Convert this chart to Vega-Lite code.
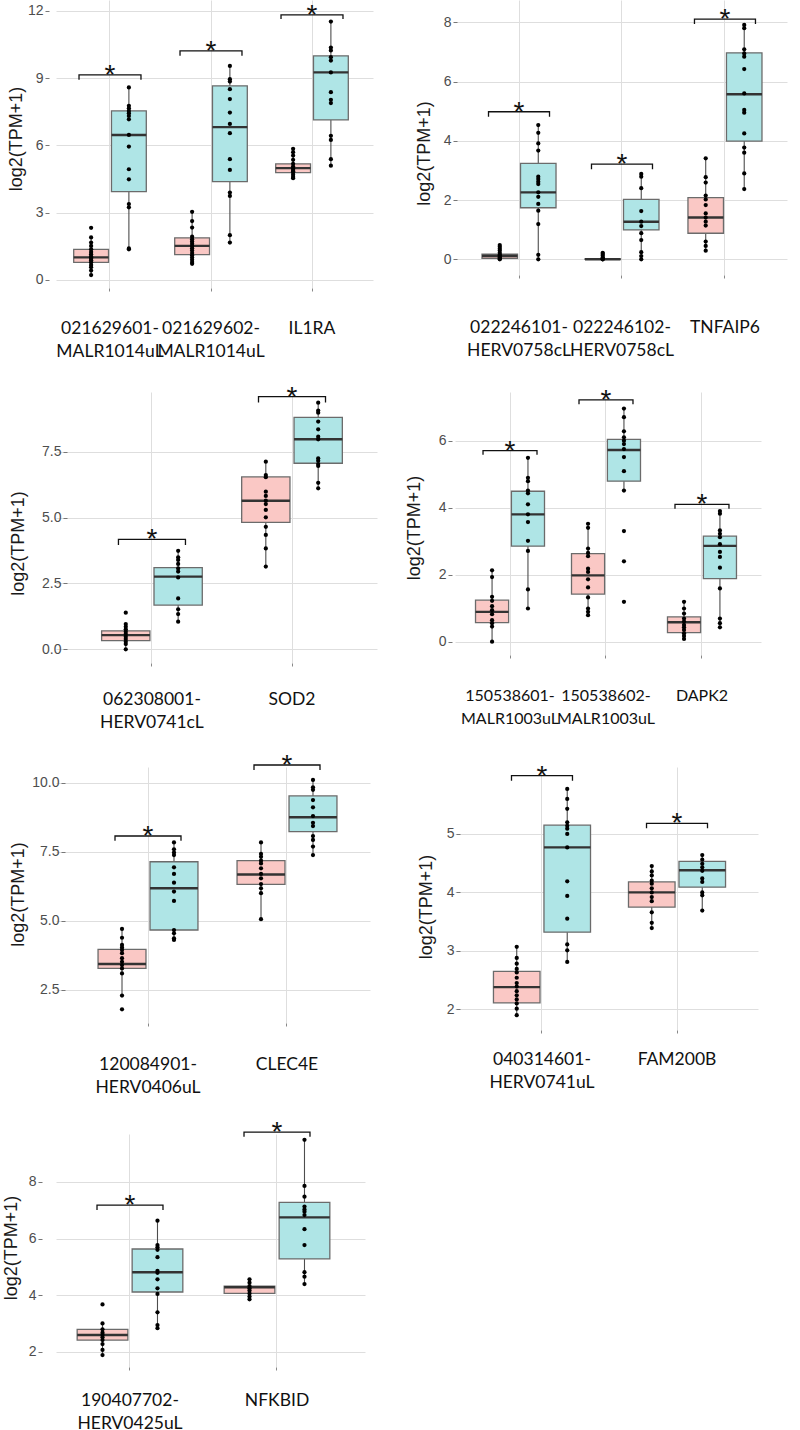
{
"$schema":"https://vega.github.io/schema/vega-lite/v6.json",
"background":"white",
"padding":{"left":2,"top":0,"right":4,"bottom":2},
"bounds":"flush",
"columns":2,
"align":"each",
"spacing":{"row":104,"column":78},
"config":{
 "view":{"stroke":null},
 "axisX":{"title":null,"labelAngle":0,"labelFont":"Lato","labelFontSize":17.5,"labelColor":"#111111","labelLineHeight":23,"labelBaseline":"top","tickSize":3,"tickColor":"#888888","domain":false,"grid":true,"gridColor":"#dedede","labelOverlap":false,"labelBound":false,"labelFlush":false,"labelLimit":300},
 "axisY":{"labelFont":"Liberation Sans","labelFontSize":14,"labelColor":"#4d4d4d","labelPadding":2,"tickSize":4,"tickColor":"#777777","domain":false,"grid":true,"gridColor":"#dedede","titleFont":"Liberation Sans","titleFontSize":18,"titleFontWeight":"normal","titleColor":"#1a1a1a","titlePadding":0}
},
"datasets":{
"boxes":[
{"p":1,"g":"021629601-MALR1014uL","s":"control","lo":0.22,"q1":0.79,"med":1.01,"q3":1.37,"hi":1.9},
{"p":1,"g":"021629601-MALR1014uL","s":"case","lo":1.37,"q1":3.94,"med":6.47,"q3":7.54,"hi":8.59},
{"p":1,"g":"021629602-MALR1014uL","s":"control","lo":0.72,"q1":1.13,"med":1.52,"q3":1.88,"hi":3.0},
{"p":1,"g":"021629602-MALR1014uL","s":"case","lo":1.67,"q1":4.39,"med":6.82,"q3":8.66,"hi":9.55},
{"p":1,"g":"IL1RA","s":"control","lo":4.54,"q1":4.79,"med":4.99,"q3":5.18,"hi":5.77},
{"p":1,"g":"IL1RA","s":"case","lo":5.1,"q1":7.14,"med":9.26,"q3":10.0,"hi":11.53},
{"p":2,"g":"022246101-HERV0758cL","s":"control","lo":0,"q1":0.03,"med":0.11,"q3":0.17,"hi":0.36},
{"p":2,"g":"022246101-HERV0758cL","s":"case","lo":0,"q1":1.74,"med":2.26,"q3":3.24,"hi":4.53},
{"p":2,"g":"022246102-HERV0758cL","s":"control","lo":0,"q1":0,"med":0,"q3":0.01,"hi":0.01},
{"p":2,"g":"022246102-HERV0758cL","s":"case","lo":0,"q1":0.99,"med":1.27,"q3":2.02,"hi":2.88},
{"p":2,"g":"TNFAIP6","s":"control","lo":0.29,"q1":0.88,"med":1.41,"q3":2.08,"hi":3.41},
{"p":2,"g":"TNFAIP6","s":"case","lo":2.37,"q1":3.99,"med":5.57,"q3":6.97,"hi":7.91},
{"p":3,"g":"062308001-HERV0741cL","s":"control","lo":0,"q1":0.33,"med":0.54,"q3":0.7,"hi":0.96},
{"p":3,"g":"062308001-HERV0741cL","s":"case","lo":1.05,"q1":1.68,"med":2.76,"q3":3.1,"hi":3.74},
{"p":3,"g":"SOD2","s":"control","lo":3.14,"q1":4.82,"med":5.64,"q3":6.54,"hi":7.12},
{"p":3,"g":"SOD2","s":"case","lo":6.11,"q1":7.06,"med":7.97,"q3":8.8,"hi":9.36},
{"p":4,"g":"150538601-MALR1003uL","s":"control","lo":0,"q1":0.57,"med":0.89,"q3":1.24,"hi":2.13},
{"p":4,"g":"150538601-MALR1003uL","s":"case","lo":0.99,"q1":2.85,"med":3.8,"q3":4.49,"hi":5.49},
{"p":4,"g":"150538602-MALR1003uL","s":"control","lo":0.79,"q1":1.42,"med":1.98,"q3":2.63,"hi":3.52},
{"p":4,"g":"150538602-MALR1003uL","s":"case","lo":4.51,"q1":4.79,"med":5.72,"q3":6.04,"hi":6.96},
{"p":4,"g":"DAPK2","s":"control","lo":0.08,"q1":0.27,"med":0.58,"q3":0.74,"hi":1.19},
{"p":4,"g":"DAPK2","s":"case","lo":0.43,"q1":1.88,"med":2.86,"q3":3.15,"hi":3.9},
{"p":5,"g":"120084901-HERV0406uL","s":"control","lo":2.3,"q1":3.28,"med":3.44,"q3":3.97,"hi":4.71},
{"p":5,"g":"120084901-HERV0406uL","s":"case","lo":4.31,"q1":4.67,"med":6.18,"q3":7.14,"hi":7.84},
{"p":5,"g":"CLEC4E","s":"control","lo":5.06,"q1":6.32,"med":6.68,"q3":7.18,"hi":7.84},
{"p":5,"g":"CLEC4E","s":"case","lo":7.38,"q1":8.23,"med":8.75,"q3":9.52,"hi":10.1},
{"p":6,"g":"040314601-HERV0741uL","s":"control","lo":1.9,"q1":2.11,"med":2.38,"q3":2.65,"hi":3.07},
{"p":6,"g":"040314601-HERV0741uL","s":"case","lo":2.81,"q1":3.32,"med":4.77,"q3":5.15,"hi":5.77},
{"p":6,"g":"FAM200B","s":"control","lo":3.39,"q1":3.75,"med":4.0,"q3":4.18,"hi":4.45},
{"p":6,"g":"FAM200B","s":"case","lo":3.69,"q1":4.09,"med":4.38,"q3":4.53,"hi":4.64},
{"p":7,"g":"190407702-HERV0425uL","s":"control","lo":1.88,"q1":2.41,"med":2.59,"q3":2.79,"hi":3.0},
{"p":7,"g":"190407702-HERV0425uL","s":"case","lo":2.83,"q1":4.11,"med":4.81,"q3":5.63,"hi":6.63},
{"p":7,"g":"NFKBID","s":"control","lo":3.85,"q1":4.06,"med":4.28,"q3":4.32,"hi":4.56},
{"p":7,"g":"NFKBID","s":"case","lo":4.39,"q1":5.28,"med":6.75,"q3":7.28,"hi":9.49}
],
"brackets":[
{"p":1,"g":"021629601-MALR1014uL","side":"L","k":1,"v":8.93},{"p":1,"g":"021629601-MALR1014uL","side":"L","k":2,"v":9.15},{"p":1,"g":"021629601-MALR1014uL","side":"R","k":3,"v":9.15},{"p":1,"g":"021629601-MALR1014uL","side":"R","k":4,"v":8.93},
{"p":1,"g":"021629602-MALR1014uL","side":"L","k":1,"v":10.0},{"p":1,"g":"021629602-MALR1014uL","side":"L","k":2,"v":10.22},{"p":1,"g":"021629602-MALR1014uL","side":"R","k":3,"v":10.22},{"p":1,"g":"021629602-MALR1014uL","side":"R","k":4,"v":10.0},
{"p":1,"g":"IL1RA","side":"L","k":1,"v":11.64},{"p":1,"g":"IL1RA","side":"L","k":2,"v":11.83},{"p":1,"g":"IL1RA","side":"R","k":3,"v":11.83},{"p":1,"g":"IL1RA","side":"R","k":4,"v":11.64},
{"p":2,"g":"022246101-HERV0758cL","side":"L","k":1,"v":4.81},{"p":2,"g":"022246101-HERV0758cL","side":"L","k":2,"v":4.98},{"p":2,"g":"022246101-HERV0758cL","side":"R","k":3,"v":4.98},{"p":2,"g":"022246101-HERV0758cL","side":"R","k":4,"v":4.81},
{"p":2,"g":"022246102-HERV0758cL","side":"L","k":1,"v":3.04},{"p":2,"g":"022246102-HERV0758cL","side":"L","k":2,"v":3.21},{"p":2,"g":"022246102-HERV0758cL","side":"R","k":3,"v":3.21},{"p":2,"g":"022246102-HERV0758cL","side":"R","k":4,"v":3.04},
{"p":2,"g":"TNFAIP6","side":"L","k":1,"v":7.94},{"p":2,"g":"TNFAIP6","side":"L","k":2,"v":8.11},{"p":2,"g":"TNFAIP6","side":"R","k":3,"v":8.11},{"p":2,"g":"TNFAIP6","side":"R","k":4,"v":7.94},
{"p":3,"g":"062308001-HERV0741cL","side":"L","k":1,"v":3.96},{"p":3,"g":"062308001-HERV0741cL","side":"L","k":2,"v":4.17},{"p":3,"g":"062308001-HERV0741cL","side":"R","k":3,"v":4.17},{"p":3,"g":"062308001-HERV0741cL","side":"R","k":4,"v":3.96},
{"p":3,"g":"SOD2","side":"L","k":1,"v":9.37},{"p":3,"g":"SOD2","side":"L","k":2,"v":9.59},{"p":3,"g":"SOD2","side":"R","k":3,"v":9.59},{"p":3,"g":"SOD2","side":"R","k":4,"v":9.37},
{"p":4,"g":"150538601-MALR1003uL","side":"L","k":1,"v":5.58},{"p":4,"g":"150538601-MALR1003uL","side":"L","k":2,"v":5.7},{"p":4,"g":"150538601-MALR1003uL","side":"R","k":3,"v":5.7},{"p":4,"g":"150538601-MALR1003uL","side":"R","k":4,"v":5.58},
{"p":4,"g":"150538602-MALR1003uL","side":"L","k":1,"v":7.09},{"p":4,"g":"150538602-MALR1003uL","side":"L","k":2,"v":7.22},{"p":4,"g":"150538602-MALR1003uL","side":"R","k":3,"v":7.22},{"p":4,"g":"150538602-MALR1003uL","side":"R","k":4,"v":7.09},
{"p":4,"g":"DAPK2","side":"L","k":1,"v":3.97},{"p":4,"g":"DAPK2","side":"L","k":2,"v":4.1},{"p":4,"g":"DAPK2","side":"R","k":3,"v":4.1},{"p":4,"g":"DAPK2","side":"R","k":4,"v":3.97},
{"p":5,"g":"120084901-HERV0406uL","side":"L","k":1,"v":7.9},{"p":5,"g":"120084901-HERV0406uL","side":"L","k":2,"v":8.07},{"p":5,"g":"120084901-HERV0406uL","side":"R","k":3,"v":8.07},{"p":5,"g":"120084901-HERV0406uL","side":"R","k":4,"v":7.9},
{"p":5,"g":"CLEC4E","side":"L","k":1,"v":10.46},{"p":5,"g":"CLEC4E","side":"L","k":2,"v":10.64},{"p":5,"g":"CLEC4E","side":"R","k":3,"v":10.64},{"p":5,"g":"CLEC4E","side":"R","k":4,"v":10.46},
{"p":6,"g":"040314601-HERV0741uL","side":"L","k":1,"v":5.91},{"p":6,"g":"040314601-HERV0741uL","side":"L","k":2,"v":6.0},{"p":6,"g":"040314601-HERV0741uL","side":"R","k":3,"v":6.0},{"p":6,"g":"040314601-HERV0741uL","side":"R","k":4,"v":5.91},
{"p":6,"g":"FAM200B","side":"L","k":1,"v":5.1},{"p":6,"g":"FAM200B","side":"L","k":2,"v":5.18},{"p":6,"g":"FAM200B","side":"R","k":3,"v":5.18},{"p":6,"g":"FAM200B","side":"R","k":4,"v":5.1},
{"p":7,"g":"190407702-HERV0425uL","side":"L","k":1,"v":7.01},{"p":7,"g":"190407702-HERV0425uL","side":"L","k":2,"v":7.18},{"p":7,"g":"190407702-HERV0425uL","side":"R","k":3,"v":7.18},{"p":7,"g":"190407702-HERV0425uL","side":"R","k":4,"v":7.01},
{"p":7,"g":"NFKBID","side":"L","k":1,"v":9.6},{"p":7,"g":"NFKBID","side":"L","k":2,"v":9.76},{"p":7,"g":"NFKBID","side":"R","k":3,"v":9.76},{"p":7,"g":"NFKBID","side":"R","k":4,"v":9.6}
],
"points":[
{"p":1,"g":"021629601-MALR1014uL","s":"control","v":2.33},{"p":1,"g":"021629601-MALR1014uL","s":"control","v":1.9},{"p":1,"g":"021629601-MALR1014uL","s":"control","v":1.67},{"p":1,"g":"021629601-MALR1014uL","s":"control","v":1.52},{"p":1,"g":"021629601-MALR1014uL","s":"control","v":1.37},{"p":1,"g":"021629601-MALR1014uL","s":"control","v":1.25},{"p":1,"g":"021629601-MALR1014uL","s":"control","v":1.15},{"p":1,"g":"021629601-MALR1014uL","s":"control","v":1.05},{"p":1,"g":"021629601-MALR1014uL","s":"control","v":1.0},{"p":1,"g":"021629601-MALR1014uL","s":"control","v":0.95},{"p":1,"g":"021629601-MALR1014uL","s":"control","v":0.88},{"p":1,"g":"021629601-MALR1014uL","s":"control","v":0.79},{"p":1,"g":"021629601-MALR1014uL","s":"control","v":0.67},{"p":1,"g":"021629601-MALR1014uL","s":"control","v":0.57},{"p":1,"g":"021629601-MALR1014uL","s":"control","v":0.42},{"p":1,"g":"021629601-MALR1014uL","s":"control","v":0.22},
{"p":1,"g":"021629601-MALR1014uL","s":"case","v":8.59},{"p":1,"g":"021629601-MALR1014uL","s":"case","v":7.77},{"p":1,"g":"021629601-MALR1014uL","s":"case","v":7.66},{"p":1,"g":"021629601-MALR1014uL","s":"case","v":7.54},{"p":1,"g":"021629601-MALR1014uL","s":"case","v":7.44},{"p":1,"g":"021629601-MALR1014uL","s":"case","v":7.32},{"p":1,"g":"021629601-MALR1014uL","s":"case","v":7.17},{"p":1,"g":"021629601-MALR1014uL","s":"case","v":6.47},{"p":1,"g":"021629601-MALR1014uL","s":"case","v":5.95},{"p":1,"g":"021629601-MALR1014uL","s":"case","v":4.94},{"p":1,"g":"021629601-MALR1014uL","s":"case","v":4.49},{"p":1,"g":"021629601-MALR1014uL","s":"case","v":3.39},{"p":1,"g":"021629601-MALR1014uL","s":"case","v":3.24},{"p":1,"g":"021629601-MALR1014uL","s":"case","v":1.41},{"p":1,"g":"021629601-MALR1014uL","s":"case","v":1.37},
{"p":1,"g":"021629602-MALR1014uL","s":"control","v":3.04},{"p":1,"g":"021629602-MALR1014uL","s":"control","v":2.63},{"p":1,"g":"021629602-MALR1014uL","s":"control","v":2.34},{"p":1,"g":"021629602-MALR1014uL","s":"control","v":1.93},{"p":1,"g":"021629602-MALR1014uL","s":"control","v":1.82},{"p":1,"g":"021629602-MALR1014uL","s":"control","v":1.72},{"p":1,"g":"021629602-MALR1014uL","s":"control","v":1.62},{"p":1,"g":"021629602-MALR1014uL","s":"control","v":1.52},{"p":1,"g":"021629602-MALR1014uL","s":"control","v":1.42},{"p":1,"g":"021629602-MALR1014uL","s":"control","v":1.32},{"p":1,"g":"021629602-MALR1014uL","s":"control","v":1.2},{"p":1,"g":"021629602-MALR1014uL","s":"control","v":1.1},{"p":1,"g":"021629602-MALR1014uL","s":"control","v":1.0},{"p":1,"g":"021629602-MALR1014uL","s":"control","v":0.9},{"p":1,"g":"021629602-MALR1014uL","s":"control","v":0.8},{"p":1,"g":"021629602-MALR1014uL","s":"control","v":0.72},
{"p":1,"g":"021629602-MALR1014uL","s":"case","v":9.55},{"p":1,"g":"021629602-MALR1014uL","s":"case","v":8.96},{"p":1,"g":"021629602-MALR1014uL","s":"case","v":8.85},{"p":1,"g":"021629602-MALR1014uL","s":"case","v":8.51},{"p":1,"g":"021629602-MALR1014uL","s":"case","v":8.07},{"p":1,"g":"021629602-MALR1014uL","s":"case","v":7.47},{"p":1,"g":"021629602-MALR1014uL","s":"case","v":6.96},{"p":1,"g":"021629602-MALR1014uL","s":"case","v":6.55},{"p":1,"g":"021629602-MALR1014uL","s":"case","v":5.39},{"p":1,"g":"021629602-MALR1014uL","s":"case","v":4.91},{"p":1,"g":"021629602-MALR1014uL","s":"case","v":3.9},{"p":1,"g":"021629602-MALR1014uL","s":"case","v":3.75},{"p":1,"g":"021629602-MALR1014uL","s":"case","v":2.0},{"p":1,"g":"021629602-MALR1014uL","s":"case","v":1.67},
{"p":1,"g":"IL1RA","s":"control","v":5.85},{"p":1,"g":"IL1RA","s":"control","v":5.7},{"p":1,"g":"IL1RA","s":"control","v":5.55},{"p":1,"g":"IL1RA","s":"control","v":5.36},{"p":1,"g":"IL1RA","s":"control","v":5.18},{"p":1,"g":"IL1RA","s":"control","v":5.06},{"p":1,"g":"IL1RA","s":"control","v":4.99},{"p":1,"g":"IL1RA","s":"control","v":4.91},{"p":1,"g":"IL1RA","s":"control","v":4.85},{"p":1,"g":"IL1RA","s":"control","v":4.79},{"p":1,"g":"IL1RA","s":"control","v":4.69},{"p":1,"g":"IL1RA","s":"control","v":4.6},{"p":1,"g":"IL1RA","s":"control","v":4.54},
{"p":1,"g":"IL1RA","s":"case","v":11.53},{"p":1,"g":"IL1RA","s":"case","v":10.37},{"p":1,"g":"IL1RA","s":"case","v":10.24},{"p":1,"g":"IL1RA","s":"case","v":9.94},{"p":1,"g":"IL1RA","s":"case","v":9.79},{"p":1,"g":"IL1RA","s":"case","v":9.26},{"p":1,"g":"IL1RA","s":"case","v":8.38},{"p":1,"g":"IL1RA","s":"case","v":8.04},{"p":1,"g":"IL1RA","s":"case","v":7.89},{"p":1,"g":"IL1RA","s":"case","v":6.43},{"p":1,"g":"IL1RA","s":"case","v":6.25},{"p":1,"g":"IL1RA","s":"case","v":5.39},{"p":1,"g":"IL1RA","s":"case","v":5.1},
{"p":2,"g":"022246101-HERV0758cL","s":"control","v":0.48},{"p":2,"g":"022246101-HERV0758cL","s":"control","v":0.42},{"p":2,"g":"022246101-HERV0758cL","s":"control","v":0.36},{"p":2,"g":"022246101-HERV0758cL","s":"control","v":0.3},{"p":2,"g":"022246101-HERV0758cL","s":"control","v":0.22},{"p":2,"g":"022246101-HERV0758cL","s":"control","v":0.16},{"p":2,"g":"022246101-HERV0758cL","s":"control","v":0.12},{"p":2,"g":"022246101-HERV0758cL","s":"control","v":0.08},{"p":2,"g":"022246101-HERV0758cL","s":"control","v":0.05},{"p":2,"g":"022246101-HERV0758cL","s":"control","v":0.02},{"p":2,"g":"022246101-HERV0758cL","s":"control","v":0.0},
{"p":2,"g":"022246101-HERV0758cL","s":"case","v":4.53},{"p":2,"g":"022246101-HERV0758cL","s":"case","v":4.27},{"p":2,"g":"022246101-HERV0758cL","s":"case","v":3.91},{"p":2,"g":"022246101-HERV0758cL","s":"case","v":3.67},{"p":2,"g":"022246101-HERV0758cL","s":"case","v":2.79},{"p":2,"g":"022246101-HERV0758cL","s":"case","v":2.71},{"p":2,"g":"022246101-HERV0758cL","s":"case","v":2.62},{"p":2,"g":"022246101-HERV0758cL","s":"case","v":2.54},{"p":2,"g":"022246101-HERV0758cL","s":"case","v":2.26},{"p":2,"g":"022246101-HERV0758cL","s":"case","v":2.11},{"p":2,"g":"022246101-HERV0758cL","s":"case","v":1.87},{"p":2,"g":"022246101-HERV0758cL","s":"case","v":1.64},{"p":2,"g":"022246101-HERV0758cL","s":"case","v":1.19},{"p":2,"g":"022246101-HERV0758cL","s":"case","v":0.15},{"p":2,"g":"022246101-HERV0758cL","s":"case","v":0.0},
{"p":2,"g":"022246102-HERV0758cL","s":"control","v":0.22},{"p":2,"g":"022246102-HERV0758cL","s":"control","v":0.18},{"p":2,"g":"022246102-HERV0758cL","s":"control","v":0.12},{"p":2,"g":"022246102-HERV0758cL","s":"control","v":0.06},{"p":2,"g":"022246102-HERV0758cL","s":"control","v":0.03},{"p":2,"g":"022246102-HERV0758cL","s":"control","v":0.0},{"p":2,"g":"022246102-HERV0758cL","s":"control","v":0.0},
{"p":2,"g":"022246102-HERV0758cL","s":"case","v":2.88},{"p":2,"g":"022246102-HERV0758cL","s":"case","v":2.79},{"p":2,"g":"022246102-HERV0758cL","s":"case","v":2.4},{"p":2,"g":"022246102-HERV0758cL","s":"case","v":1.63},{"p":2,"g":"022246102-HERV0758cL","s":"case","v":1.27},{"p":2,"g":"022246102-HERV0758cL","s":"case","v":1.12},{"p":2,"g":"022246102-HERV0758cL","s":"case","v":0.88},{"p":2,"g":"022246102-HERV0758cL","s":"case","v":0.65},{"p":2,"g":"022246102-HERV0758cL","s":"case","v":0.24},{"p":2,"g":"022246102-HERV0758cL","s":"case","v":0.11},{"p":2,"g":"022246102-HERV0758cL","s":"case","v":0.0},
{"p":2,"g":"TNFAIP6","s":"control","v":3.41},{"p":2,"g":"TNFAIP6","s":"control","v":2.77},{"p":2,"g":"TNFAIP6","s":"control","v":2.59},{"p":2,"g":"TNFAIP6","s":"control","v":2.15},{"p":2,"g":"TNFAIP6","s":"control","v":2.02},{"p":2,"g":"TNFAIP6","s":"control","v":1.83},{"p":2,"g":"TNFAIP6","s":"control","v":1.55},{"p":2,"g":"TNFAIP6","s":"control","v":1.41},{"p":2,"g":"TNFAIP6","s":"control","v":1.27},{"p":2,"g":"TNFAIP6","s":"control","v":1.14},{"p":2,"g":"TNFAIP6","s":"control","v":0.6},{"p":2,"g":"TNFAIP6","s":"control","v":0.45},{"p":2,"g":"TNFAIP6","s":"control","v":0.29},
{"p":2,"g":"TNFAIP6","s":"case","v":7.91},{"p":2,"g":"TNFAIP6","s":"case","v":7.8},{"p":2,"g":"TNFAIP6","s":"case","v":7.09},{"p":2,"g":"TNFAIP6","s":"case","v":6.95},{"p":2,"g":"TNFAIP6","s":"case","v":6.84},{"p":2,"g":"TNFAIP6","s":"case","v":6.42},{"p":2,"g":"TNFAIP6","s":"case","v":5.6},{"p":2,"g":"TNFAIP6","s":"case","v":5.04},{"p":2,"g":"TNFAIP6","s":"case","v":4.95},{"p":2,"g":"TNFAIP6","s":"case","v":4.25},{"p":2,"g":"TNFAIP6","s":"case","v":3.77},{"p":2,"g":"TNFAIP6","s":"case","v":3.6},{"p":2,"g":"TNFAIP6","s":"case","v":2.9},{"p":2,"g":"TNFAIP6","s":"case","v":2.37},
{"p":3,"g":"062308001-HERV0741cL","s":"control","v":1.39},{"p":3,"g":"062308001-HERV0741cL","s":"control","v":0.96},{"p":3,"g":"062308001-HERV0741cL","s":"control","v":0.86},{"p":3,"g":"062308001-HERV0741cL","s":"control","v":0.76},{"p":3,"g":"062308001-HERV0741cL","s":"control","v":0.67},{"p":3,"g":"062308001-HERV0741cL","s":"control","v":0.58},{"p":3,"g":"062308001-HERV0741cL","s":"control","v":0.48},{"p":3,"g":"062308001-HERV0741cL","s":"control","v":0.39},{"p":3,"g":"062308001-HERV0741cL","s":"control","v":0.29},{"p":3,"g":"062308001-HERV0741cL","s":"control","v":0.2},{"p":3,"g":"062308001-HERV0741cL","s":"control","v":0.0},
{"p":3,"g":"062308001-HERV0741cL","s":"case","v":3.74},{"p":3,"g":"062308001-HERV0741cL","s":"case","v":3.49},{"p":3,"g":"062308001-HERV0741cL","s":"case","v":3.39},{"p":3,"g":"062308001-HERV0741cL","s":"case","v":3.24},{"p":3,"g":"062308001-HERV0741cL","s":"case","v":3.07},{"p":3,"g":"062308001-HERV0741cL","s":"case","v":2.95},{"p":3,"g":"062308001-HERV0741cL","s":"case","v":2.73},{"p":3,"g":"062308001-HERV0741cL","s":"case","v":1.93},{"p":3,"g":"062308001-HERV0741cL","s":"case","v":1.52},{"p":3,"g":"062308001-HERV0741cL","s":"case","v":1.34},{"p":3,"g":"062308001-HERV0741cL","s":"case","v":1.05},
{"p":3,"g":"SOD2","s":"control","v":7.12},{"p":3,"g":"SOD2","s":"control","v":6.61},{"p":3,"g":"SOD2","s":"control","v":6.53},{"p":3,"g":"SOD2","s":"control","v":5.98},{"p":3,"g":"SOD2","s":"control","v":5.82},{"p":3,"g":"SOD2","s":"control","v":5.64},{"p":3,"g":"SOD2","s":"control","v":5.51},{"p":3,"g":"SOD2","s":"control","v":5.29},{"p":3,"g":"SOD2","s":"control","v":5.01},{"p":3,"g":"SOD2","s":"control","v":4.65},{"p":3,"g":"SOD2","s":"control","v":4.34},{"p":3,"g":"SOD2","s":"control","v":3.83},{"p":3,"g":"SOD2","s":"control","v":3.14},
{"p":3,"g":"SOD2","s":"case","v":9.36},{"p":3,"g":"SOD2","s":"case","v":9.06},{"p":3,"g":"SOD2","s":"case","v":8.98},{"p":3,"g":"SOD2","s":"case","v":8.64},{"p":3,"g":"SOD2","s":"case","v":8.35},{"p":3,"g":"SOD2","s":"case","v":8.07},{"p":3,"g":"SOD2","s":"case","v":7.97},{"p":3,"g":"SOD2","s":"case","v":7.25},{"p":3,"g":"SOD2","s":"case","v":7.16},{"p":3,"g":"SOD2","s":"case","v":7.03},{"p":3,"g":"SOD2","s":"case","v":6.96},{"p":3,"g":"SOD2","s":"case","v":6.32},{"p":3,"g":"SOD2","s":"case","v":6.11},
{"p":4,"g":"150538601-MALR1003uL","s":"control","v":2.13},{"p":4,"g":"150538601-MALR1003uL","s":"control","v":1.93},{"p":4,"g":"150538601-MALR1003uL","s":"control","v":1.34},{"p":4,"g":"150538601-MALR1003uL","s":"control","v":1.22},{"p":4,"g":"150538601-MALR1003uL","s":"control","v":1.06},{"p":4,"g":"150538601-MALR1003uL","s":"control","v":0.94},{"p":4,"g":"150538601-MALR1003uL","s":"control","v":0.82},{"p":4,"g":"150538601-MALR1003uL","s":"control","v":0.64},{"p":4,"g":"150538601-MALR1003uL","s":"control","v":0.55},{"p":4,"g":"150538601-MALR1003uL","s":"control","v":0.45},{"p":4,"g":"150538601-MALR1003uL","s":"control","v":0.0},
{"p":4,"g":"150538601-MALR1003uL","s":"case","v":5.49},{"p":4,"g":"150538601-MALR1003uL","s":"case","v":4.89},{"p":4,"g":"150538601-MALR1003uL","s":"case","v":4.79},{"p":4,"g":"150538601-MALR1003uL","s":"case","v":4.51},{"p":4,"g":"150538601-MALR1003uL","s":"case","v":4.43},{"p":4,"g":"150538601-MALR1003uL","s":"case","v":4.1},{"p":4,"g":"150538601-MALR1003uL","s":"case","v":3.8},{"p":4,"g":"150538601-MALR1003uL","s":"case","v":3.57},{"p":4,"g":"150538601-MALR1003uL","s":"case","v":3.01},{"p":4,"g":"150538601-MALR1003uL","s":"case","v":2.71},{"p":4,"g":"150538601-MALR1003uL","s":"case","v":1.56},{"p":4,"g":"150538601-MALR1003uL","s":"case","v":0.99},
{"p":4,"g":"150538602-MALR1003uL","s":"control","v":3.52},{"p":4,"g":"150538602-MALR1003uL","s":"control","v":3.4},{"p":4,"g":"150538602-MALR1003uL","s":"control","v":2.78},{"p":4,"g":"150538602-MALR1003uL","s":"control","v":2.65},{"p":4,"g":"150538602-MALR1003uL","s":"control","v":2.55},{"p":4,"g":"150538602-MALR1003uL","s":"control","v":2.18},{"p":4,"g":"150538602-MALR1003uL","s":"control","v":2.08},{"p":4,"g":"150538602-MALR1003uL","s":"control","v":1.86},{"p":4,"g":"150538602-MALR1003uL","s":"control","v":1.62},{"p":4,"g":"150538602-MALR1003uL","s":"control","v":1.32},{"p":4,"g":"150538602-MALR1003uL","s":"control","v":0.99},{"p":4,"g":"150538602-MALR1003uL","s":"control","v":0.89},{"p":4,"g":"150538602-MALR1003uL","s":"control","v":0.79},
{"p":4,"g":"150538602-MALR1003uL","s":"case","v":6.96},{"p":4,"g":"150538602-MALR1003uL","s":"case","v":6.7},{"p":4,"g":"150538602-MALR1003uL","s":"case","v":6.28},{"p":4,"g":"150538602-MALR1003uL","s":"case","v":6.1},{"p":4,"g":"150538602-MALR1003uL","s":"case","v":6.0},{"p":4,"g":"150538602-MALR1003uL","s":"case","v":5.9},{"p":4,"g":"150538602-MALR1003uL","s":"case","v":5.75},{"p":4,"g":"150538602-MALR1003uL","s":"case","v":5.51},{"p":4,"g":"150538602-MALR1003uL","s":"case","v":5.09},{"p":4,"g":"150538602-MALR1003uL","s":"case","v":4.51},{"p":4,"g":"150538602-MALR1003uL","s":"case","v":3.3},{"p":4,"g":"150538602-MALR1003uL","s":"case","v":2.4},{"p":4,"g":"150538602-MALR1003uL","s":"case","v":1.19},
{"p":4,"g":"DAPK2","s":"control","v":1.19},{"p":4,"g":"DAPK2","s":"control","v":0.99},{"p":4,"g":"DAPK2","s":"control","v":0.84},{"p":4,"g":"DAPK2","s":"control","v":0.69},{"p":4,"g":"DAPK2","s":"control","v":0.6},{"p":4,"g":"DAPK2","s":"control","v":0.5},{"p":4,"g":"DAPK2","s":"control","v":0.43},{"p":4,"g":"DAPK2","s":"control","v":0.35},{"p":4,"g":"DAPK2","s":"control","v":0.25},{"p":4,"g":"DAPK2","s":"control","v":0.17},{"p":4,"g":"DAPK2","s":"control","v":0.08},
{"p":4,"g":"DAPK2","s":"case","v":3.9},{"p":4,"g":"DAPK2","s":"case","v":3.82},{"p":4,"g":"DAPK2","s":"case","v":3.32},{"p":4,"g":"DAPK2","s":"case","v":3.22},{"p":4,"g":"DAPK2","s":"case","v":3.12},{"p":4,"g":"DAPK2","s":"case","v":2.91},{"p":4,"g":"DAPK2","s":"case","v":2.68},{"p":4,"g":"DAPK2","s":"case","v":2.53},{"p":4,"g":"DAPK2","s":"case","v":2.21},{"p":4,"g":"DAPK2","s":"case","v":1.59},{"p":4,"g":"DAPK2","s":"case","v":0.69},{"p":4,"g":"DAPK2","s":"case","v":0.55},{"p":4,"g":"DAPK2","s":"case","v":0.43},
{"p":5,"g":"120084901-HERV0406uL","s":"control","v":4.71},{"p":5,"g":"120084901-HERV0406uL","s":"control","v":4.39},{"p":5,"g":"120084901-HERV0406uL","s":"control","v":4.13},{"p":5,"g":"120084901-HERV0406uL","s":"control","v":4.04},{"p":5,"g":"120084901-HERV0406uL","s":"control","v":3.95},{"p":5,"g":"120084901-HERV0406uL","s":"control","v":3.83},{"p":5,"g":"120084901-HERV0406uL","s":"control","v":3.65},{"p":5,"g":"120084901-HERV0406uL","s":"control","v":3.52},{"p":5,"g":"120084901-HERV0406uL","s":"control","v":3.4},{"p":5,"g":"120084901-HERV0406uL","s":"control","v":3.28},{"p":5,"g":"120084901-HERV0406uL","s":"control","v":3.1},{"p":5,"g":"120084901-HERV0406uL","s":"control","v":2.3},{"p":5,"g":"120084901-HERV0406uL","s":"control","v":1.8},
{"p":5,"g":"120084901-HERV0406uL","s":"case","v":7.84},{"p":5,"g":"120084901-HERV0406uL","s":"case","v":7.59},{"p":5,"g":"120084901-HERV0406uL","s":"case","v":7.47},{"p":5,"g":"120084901-HERV0406uL","s":"case","v":7.38},{"p":5,"g":"120084901-HERV0406uL","s":"case","v":6.94},{"p":5,"g":"120084901-HERV0406uL","s":"case","v":6.7},{"p":5,"g":"120084901-HERV0406uL","s":"case","v":6.38},{"p":5,"g":"120084901-HERV0406uL","s":"case","v":6.06},{"p":5,"g":"120084901-HERV0406uL","s":"case","v":5.72},{"p":5,"g":"120084901-HERV0406uL","s":"case","v":4.67},{"p":5,"g":"120084901-HERV0406uL","s":"case","v":4.55},{"p":5,"g":"120084901-HERV0406uL","s":"case","v":4.37},{"p":5,"g":"120084901-HERV0406uL","s":"case","v":4.31},
{"p":5,"g":"CLEC4E","s":"control","v":7.84},{"p":5,"g":"CLEC4E","s":"control","v":7.42},{"p":5,"g":"CLEC4E","s":"control","v":7.32},{"p":5,"g":"CLEC4E","s":"control","v":7.18},{"p":5,"g":"CLEC4E","s":"control","v":7.08},{"p":5,"g":"CLEC4E","s":"control","v":6.9},{"p":5,"g":"CLEC4E","s":"control","v":6.7},{"p":5,"g":"CLEC4E","s":"control","v":6.54},{"p":5,"g":"CLEC4E","s":"control","v":6.33},{"p":5,"g":"CLEC4E","s":"control","v":6.18},{"p":5,"g":"CLEC4E","s":"control","v":6.0},{"p":5,"g":"CLEC4E","s":"control","v":5.06},
{"p":5,"g":"CLEC4E","s":"case","v":10.1},{"p":5,"g":"CLEC4E","s":"case","v":9.83},{"p":5,"g":"CLEC4E","s":"case","v":9.74},{"p":5,"g":"CLEC4E","s":"case","v":9.37},{"p":5,"g":"CLEC4E","s":"case","v":9.11},{"p":5,"g":"CLEC4E","s":"case","v":8.79},{"p":5,"g":"CLEC4E","s":"case","v":8.55},{"p":5,"g":"CLEC4E","s":"case","v":8.43},{"p":5,"g":"CLEC4E","s":"case","v":8.07},{"p":5,"g":"CLEC4E","s":"case","v":7.93},{"p":5,"g":"CLEC4E","s":"case","v":7.69},{"p":5,"g":"CLEC4E","s":"case","v":7.38},
{"p":6,"g":"040314601-HERV0741uL","s":"control","v":3.07},{"p":6,"g":"040314601-HERV0741uL","s":"control","v":2.88},{"p":6,"g":"040314601-HERV0741uL","s":"control","v":2.78},{"p":6,"g":"040314601-HERV0741uL","s":"control","v":2.69},{"p":6,"g":"040314601-HERV0741uL","s":"control","v":2.63},{"p":6,"g":"040314601-HERV0741uL","s":"control","v":2.54},{"p":6,"g":"040314601-HERV0741uL","s":"control","v":2.45},{"p":6,"g":"040314601-HERV0741uL","s":"control","v":2.39},{"p":6,"g":"040314601-HERV0741uL","s":"control","v":2.31},{"p":6,"g":"040314601-HERV0741uL","s":"control","v":2.24},{"p":6,"g":"040314601-HERV0741uL","s":"control","v":2.17},{"p":6,"g":"040314601-HERV0741uL","s":"control","v":2.1},{"p":6,"g":"040314601-HERV0741uL","s":"control","v":2.01},{"p":6,"g":"040314601-HERV0741uL","s":"control","v":1.9},
{"p":6,"g":"040314601-HERV0741uL","s":"case","v":5.77},{"p":6,"g":"040314601-HERV0741uL","s":"case","v":5.6},{"p":6,"g":"040314601-HERV0741uL","s":"case","v":5.43},{"p":6,"g":"040314601-HERV0741uL","s":"case","v":5.2},{"p":6,"g":"040314601-HERV0741uL","s":"case","v":5.14},{"p":6,"g":"040314601-HERV0741uL","s":"case","v":5.09},{"p":6,"g":"040314601-HERV0741uL","s":"case","v":5.0},{"p":6,"g":"040314601-HERV0741uL","s":"case","v":4.77},{"p":6,"g":"040314601-HERV0741uL","s":"case","v":4.19},{"p":6,"g":"040314601-HERV0741uL","s":"case","v":3.94},{"p":6,"g":"040314601-HERV0741uL","s":"case","v":3.55},{"p":6,"g":"040314601-HERV0741uL","s":"case","v":3.11},{"p":6,"g":"040314601-HERV0741uL","s":"case","v":3.01},{"p":6,"g":"040314601-HERV0741uL","s":"case","v":2.81},
{"p":6,"g":"FAM200B","s":"control","v":4.45},{"p":6,"g":"FAM200B","s":"control","v":4.36},{"p":6,"g":"FAM200B","s":"control","v":4.29},{"p":6,"g":"FAM200B","s":"control","v":4.2},{"p":6,"g":"FAM200B","s":"control","v":4.15},{"p":6,"g":"FAM200B","s":"control","v":4.07},{"p":6,"g":"FAM200B","s":"control","v":4.0},{"p":6,"g":"FAM200B","s":"control","v":3.92},{"p":6,"g":"FAM200B","s":"control","v":3.85},{"p":6,"g":"FAM200B","s":"control","v":3.66},{"p":6,"g":"FAM200B","s":"control","v":3.48},{"p":6,"g":"FAM200B","s":"control","v":3.39},
{"p":6,"g":"FAM200B","s":"case","v":4.64},{"p":6,"g":"FAM200B","s":"case","v":4.56},{"p":6,"g":"FAM200B","s":"case","v":4.49},{"p":6,"g":"FAM200B","s":"case","v":4.43},{"p":6,"g":"FAM200B","s":"case","v":4.37},{"p":6,"g":"FAM200B","s":"case","v":4.24},{"p":6,"g":"FAM200B","s":"case","v":4.18},{"p":6,"g":"FAM200B","s":"case","v":4.0},{"p":6,"g":"FAM200B","s":"case","v":3.95},{"p":6,"g":"FAM200B","s":"case","v":3.69},
{"p":7,"g":"190407702-HERV0425uL","s":"control","v":3.67},{"p":7,"g":"190407702-HERV0425uL","s":"control","v":3.0},{"p":7,"g":"190407702-HERV0425uL","s":"control","v":2.79},{"p":7,"g":"190407702-HERV0425uL","s":"control","v":2.67},{"p":7,"g":"190407702-HERV0425uL","s":"control","v":2.59},{"p":7,"g":"190407702-HERV0425uL","s":"control","v":2.51},{"p":7,"g":"190407702-HERV0425uL","s":"control","v":2.41},{"p":7,"g":"190407702-HERV0425uL","s":"control","v":2.27},{"p":7,"g":"190407702-HERV0425uL","s":"control","v":2.06},{"p":7,"g":"190407702-HERV0425uL","s":"control","v":1.88},
{"p":7,"g":"190407702-HERV0425uL","s":"case","v":6.63},{"p":7,"g":"190407702-HERV0425uL","s":"case","v":5.77},{"p":7,"g":"190407702-HERV0425uL","s":"case","v":5.69},{"p":7,"g":"190407702-HERV0425uL","s":"case","v":5.6},{"p":7,"g":"190407702-HERV0425uL","s":"case","v":5.34},{"p":7,"g":"190407702-HERV0425uL","s":"case","v":4.86},{"p":7,"g":"190407702-HERV0425uL","s":"case","v":4.79},{"p":7,"g":"190407702-HERV0425uL","s":"case","v":4.56},{"p":7,"g":"190407702-HERV0425uL","s":"case","v":4.24},{"p":7,"g":"190407702-HERV0425uL","s":"case","v":4.04},{"p":7,"g":"190407702-HERV0425uL","s":"case","v":3.39},{"p":7,"g":"190407702-HERV0425uL","s":"case","v":2.94},{"p":7,"g":"190407702-HERV0425uL","s":"case","v":2.83},
{"p":7,"g":"NFKBID","s":"control","v":4.56},{"p":7,"g":"NFKBID","s":"control","v":4.44},{"p":7,"g":"NFKBID","s":"control","v":4.32},{"p":7,"g":"NFKBID","s":"control","v":4.24},{"p":7,"g":"NFKBID","s":"control","v":4.16},{"p":7,"g":"NFKBID","s":"control","v":4.06},{"p":7,"g":"NFKBID","s":"control","v":3.95},{"p":7,"g":"NFKBID","s":"control","v":3.85},
{"p":7,"g":"NFKBID","s":"case","v":9.49},{"p":7,"g":"NFKBID","s":"case","v":7.86},{"p":7,"g":"NFKBID","s":"case","v":7.48},{"p":7,"g":"NFKBID","s":"case","v":7.13},{"p":7,"g":"NFKBID","s":"case","v":7.03},{"p":7,"g":"NFKBID","s":"case","v":6.95},{"p":7,"g":"NFKBID","s":"case","v":6.83},{"p":7,"g":"NFKBID","s":"case","v":6.33},{"p":7,"g":"NFKBID","s":"case","v":5.77},{"p":7,"g":"NFKBID","s":"case","v":4.81},{"p":7,"g":"NFKBID","s":"case","v":4.65},{"p":7,"g":"NFKBID","s":"case","v":4.39}
]
},
"concat":[
{"width":317,"height":288,"resolve":{"scale":{"xOffset":"independent"}},
 "encoding":{"x":{"field":"g","type":"nominal","title":null,"scale":{"domain":["021629601-MALR1014uL","021629602-MALR1014uL","IL1RA"],"paddingInner":0,"paddingOuter":0.0693,"align":0.25},"axis":{"labelPadding":28.5,"labelExpr":"indexof(datum.label,'-')>0 ? [slice(datum.label,0,indexof(datum.label,'-')+1), slice(datum.label,indexof(datum.label,'-')+1)] : datum.label"}}},
 "layer":[
  {"data":{"name":"boxes"},"transform":[{"filter":"datum.p==1"}],"mark":{"type":"rule","color":"#4d4d4d","strokeWidth":1.1},
   "encoding":{"xOffset":{"field":"s","type":"nominal","scale":{"type":"band","domain":["control","case"],"paddingInner":0.078,"paddingOuter":0.376}},
    "y":{"field":"lo","type":"quantitative","scale":{"domain":[-0.357,12.49],"nice":false,"zero":false},"axis":{"title":"log2(TPM+1)","values":[0,3,6,9,12],"format":"d","offset":7,"minExtent":24,"maxExtent":24,"titleY":138.5}},"y2":{"field":"hi"}}},
  {"data":{"name":"boxes"},"transform":[{"filter":"datum.p==1"}],"mark":{"type":"bar","stroke":"#6b6b6b","strokeWidth":1.3},
   "encoding":{"xOffset":{"field":"s","type":"nominal","scale":{"type":"band","domain":["control","case"],"paddingInner":0.078,"paddingOuter":0.376}},
    "y":{"field":"q1","type":"quantitative","scale":{"domain":[-0.357,12.49],"nice":false,"zero":false}},"y2":{"field":"q3"},
    "fill":{"field":"s","type":"nominal","scale":{"domain":["control","case"],"range":["#FAC8C5","#AFE5E6"]},"legend":null}}},
  {"data":{"name":"boxes"},"transform":[{"filter":"datum.p==1"}],"mark":{"type":"bar","fillOpacity":0,"stroke":"#333333","strokeWidth":2.4},
   "encoding":{"xOffset":{"field":"s","type":"nominal","scale":{"type":"band","domain":["control","case"],"paddingInner":0.078,"paddingOuter":0.376}},
    "y":{"field":"med","type":"quantitative","scale":{"domain":[-0.357,12.49],"nice":false,"zero":false}},"y2":{"field":"med"}}},
  {"data":{"name":"points"},"transform":[{"filter":"datum.p==1"}],"mark":{"type":"circle","color":"#000000","size":18,"opacity":1},
   "encoding":{"xOffset":{"field":"s","type":"nominal","scale":{"type":"band","domain":["control","case"],"paddingInner":0.078,"paddingOuter":0.376}},
    "y":{"field":"v","type":"quantitative","scale":{"domain":[-0.357,12.49],"nice":false,"zero":false}}}},
  {"data":{"name":"brackets"},"transform":[{"filter":"datum.p==1"}],"mark":{"type":"line","color":"#111111","strokeWidth":1.3},
   "encoding":{"xOffset":{"field":"side","type":"nominal","scale":{"type":"point","domain":["L","R"],"padding":0.315}},
    "y":{"field":"v","type":"quantitative","scale":{"domain":[-0.357,12.49],"nice":false,"zero":false}},"detail":{"field":"g"},"order":{"field":"k","type":"quantitative"}}},
  {"data":{"name":"brackets"},"transform":[{"filter":"datum.p==1 && datum.k==2"}],"mark":{"type":"text","text":"*","font":"Liberation Sans","fontSize":28,"dy":1,"color":"#111111"},
   "encoding":{"y":{"field":"v","type":"quantitative","scale":{"domain":[-0.357,12.49],"nice":false,"zero":false}}}}
 ]},
{"width":332,"height":275,"resolve":{"scale":{"xOffset":"independent"}},
 "encoding":{"x":{"field":"g","type":"nominal","title":null,"scale":{"domain":["022246101-HERV0758cL","022246102-HERV0758cL","TNFAIP6"],"paddingInner":0,"paddingOuter":0.112,"align":0.543},"axis":{"labelPadding":40,"labelExpr":"indexof(datum.label,'-')>0 ? [slice(datum.label,0,indexof(datum.label,'-')+1), slice(datum.label,indexof(datum.label,'-')+1)] : datum.label"}}},
 "layer":[
  {"data":{"name":"boxes"},"transform":[{"filter":"datum.p==2"}],"mark":{"type":"rule","color":"#4d4d4d","strokeWidth":1.1},
   "encoding":{"xOffset":{"field":"s","type":"nominal","scale":{"type":"band","domain":["control","case"],"paddingInner":0.078,"paddingOuter":0.376}},
    "y":{"field":"lo","type":"quantitative","scale":{"domain":[-0.53,8.753],"nice":false,"zero":false},"axis":{"title":"log2(TPM+1)","values":[0,2,4,6,8],"format":"d","offset":-2,"minExtent":24,"maxExtent":24,"titleY":153}},"y2":{"field":"hi"}}},
  {"data":{"name":"boxes"},"transform":[{"filter":"datum.p==2"}],"mark":{"type":"bar","stroke":"#6b6b6b","strokeWidth":1.3},
   "encoding":{"xOffset":{"field":"s","type":"nominal","scale":{"type":"band","domain":["control","case"],"paddingInner":0.078,"paddingOuter":0.376}},
    "y":{"field":"q1","type":"quantitative","scale":{"domain":[-0.53,8.753],"nice":false,"zero":false}},"y2":{"field":"q3"},
    "fill":{"field":"s","type":"nominal","scale":{"domain":["control","case"],"range":["#FAC8C5","#AFE5E6"]},"legend":null}}},
  {"data":{"name":"boxes"},"transform":[{"filter":"datum.p==2"}],"mark":{"type":"bar","fillOpacity":0,"stroke":"#333333","strokeWidth":2.4},
   "encoding":{"xOffset":{"field":"s","type":"nominal","scale":{"type":"band","domain":["control","case"],"paddingInner":0.078,"paddingOuter":0.376}},
    "y":{"field":"med","type":"quantitative","scale":{"domain":[-0.53,8.753],"nice":false,"zero":false}},"y2":{"field":"med"}}},
  {"data":{"name":"points"},"transform":[{"filter":"datum.p==2"}],"mark":{"type":"circle","color":"#000000","size":18,"opacity":1},
   "encoding":{"xOffset":{"field":"s","type":"nominal","scale":{"type":"band","domain":["control","case"],"paddingInner":0.078,"paddingOuter":0.376}},
    "y":{"field":"v","type":"quantitative","scale":{"domain":[-0.53,8.753],"nice":false,"zero":false}}}},
  {"data":{"name":"brackets"},"transform":[{"filter":"datum.p==2"}],"mark":{"type":"line","color":"#111111","strokeWidth":1.3},
   "encoding":{"xOffset":{"field":"side","type":"nominal","scale":{"type":"point","domain":["L","R"],"padding":0.344}},
    "y":{"field":"v","type":"quantitative","scale":{"domain":[-0.53,8.753],"nice":false,"zero":false}},"detail":{"field":"g"},"order":{"field":"k","type":"quantitative"}}},
  {"data":{"name":"brackets"},"transform":[{"filter":"datum.p==2 && datum.k==2"}],"mark":{"type":"text","text":"*","font":"Liberation Sans","fontSize":28,"dy":1,"color":"#111111"},
   "encoding":{"y":{"field":"v","type":"quantitative","scale":{"domain":[-0.53,8.753],"nice":false,"zero":false}}}}
 ]},
{"width":321,"height":271,"resolve":{"scale":{"xOffset":"independent"}},
 "encoding":{"x":{"field":"g","type":"nominal","title":null,"scale":{"domain":["062308001-HERV0741cL","SOD2"],"paddingInner":0,"paddingOuter":0.146,"align":0.634},"axis":{"labelPadding":24.5,"labelExpr":"indexof(datum.label,'-')>0 ? [slice(datum.label,0,indexof(datum.label,'-')+1), slice(datum.label,indexof(datum.label,'-')+1)] : datum.label"}}},
 "layer":[
  {"data":{"name":"boxes"},"transform":[{"filter":"datum.p==3"}],"mark":{"type":"rule","color":"#4d4d4d","strokeWidth":1.1},
   "encoding":{"xOffset":{"field":"s","type":"nominal","scale":{"type":"band","domain":["control","case"],"paddingInner":0.078,"paddingOuter":0.376}},
    "y":{"field":"lo","type":"quantitative","scale":{"domain":[-0.519,9.764],"nice":false,"zero":false},"axis":{"title":"log2(TPM+1)","values":[0,2.5,5,7.5],"format":".1f","offset":-11,"minExtent":40,"maxExtent":40,"titleY":151}},"y2":{"field":"hi"}}},
  {"data":{"name":"boxes"},"transform":[{"filter":"datum.p==3"}],"mark":{"type":"bar","stroke":"#6b6b6b","strokeWidth":1.3},
   "encoding":{"xOffset":{"field":"s","type":"nominal","scale":{"type":"band","domain":["control","case"],"paddingInner":0.078,"paddingOuter":0.376}},
    "y":{"field":"q1","type":"quantitative","scale":{"domain":[-0.519,9.764],"nice":false,"zero":false}},"y2":{"field":"q3"},
    "fill":{"field":"s","type":"nominal","scale":{"domain":["control","case"],"range":["#FAC8C5","#AFE5E6"]},"legend":null}}},
  {"data":{"name":"boxes"},"transform":[{"filter":"datum.p==3"}],"mark":{"type":"bar","fillOpacity":0,"stroke":"#333333","strokeWidth":2.4},
   "encoding":{"xOffset":{"field":"s","type":"nominal","scale":{"type":"band","domain":["control","case"],"paddingInner":0.078,"paddingOuter":0.376}},
    "y":{"field":"med","type":"quantitative","scale":{"domain":[-0.519,9.764],"nice":false,"zero":false}},"y2":{"field":"med"}}},
  {"data":{"name":"points"},"transform":[{"filter":"datum.p==3"}],"mark":{"type":"circle","color":"#000000","size":18,"opacity":1},
   "encoding":{"xOffset":{"field":"s","type":"nominal","scale":{"type":"band","domain":["control","case"],"paddingInner":0.078,"paddingOuter":0.376}},
    "y":{"field":"v","type":"quantitative","scale":{"domain":[-0.519,9.764],"nice":false,"zero":false}}}},
  {"data":{"name":"brackets"},"transform":[{"filter":"datum.p==3"}],"mark":{"type":"line","color":"#111111","strokeWidth":1.3},
   "encoding":{"xOffset":{"field":"side","type":"nominal","scale":{"type":"point","domain":["L","R"],"padding":0.545}},
    "y":{"field":"v","type":"quantitative","scale":{"domain":[-0.519,9.764],"nice":false,"zero":false}},"detail":{"field":"g"},"order":{"field":"k","type":"quantitative"}}},
  {"data":{"name":"brackets"},"transform":[{"filter":"datum.p==3 && datum.k==2"}],"mark":{"type":"text","text":"*","font":"Liberation Sans","fontSize":28,"dy":1,"color":"#111111"},
   "encoding":{"y":{"field":"v","type":"quantitative","scale":{"domain":[-0.519,9.764],"nice":false,"zero":false}}}}
 ]},
{"width":306,"height":263,"resolve":{"scale":{"xOffset":"independent"}},
 "encoding":{"x":{"field":"g","type":"nominal","title":null,"scale":{"domain":["150538601-MALR1003uL","150538602-MALR1003uL","DAPK2"],"paddingInner":0,"paddingOuter":0.094,"align":0.389},"axis":{"labelPadding":29.5,"labelFontSize":16,"labelExpr":"indexof(datum.label,'-')>0 ? [slice(datum.label,0,indexof(datum.label,'-')+1), slice(datum.label,indexof(datum.label,'-')+1)] : datum.label"}}},
 "layer":[
  {"data":{"name":"boxes"},"transform":[{"filter":"datum.p==4"}],"mark":{"type":"rule","color":"#4d4d4d","strokeWidth":1.1},
   "encoding":{"xOffset":{"field":"s","type":"nominal","scale":{"type":"band","domain":["control","case"],"paddingInner":0.078,"paddingOuter":0.376}},
    "y":{"field":"lo","type":"quantitative","scale":{"domain":[-0.398,7.453],"nice":false,"zero":false},"axis":{"title":"log2(TPM+1)","values":[0,2,4,6],"format":"d","offset":3,"minExtent":29,"maxExtent":29,"titleY":135.5}},"y2":{"field":"hi"}}},
  {"data":{"name":"boxes"},"transform":[{"filter":"datum.p==4"}],"mark":{"type":"bar","stroke":"#6b6b6b","strokeWidth":1.3},
   "encoding":{"xOffset":{"field":"s","type":"nominal","scale":{"type":"band","domain":["control","case"],"paddingInner":0.078,"paddingOuter":0.376}},
    "y":{"field":"q1","type":"quantitative","scale":{"domain":[-0.398,7.453],"nice":false,"zero":false}},"y2":{"field":"q3"},
    "fill":{"field":"s","type":"nominal","scale":{"domain":["control","case"],"range":["#FAC8C5","#AFE5E6"]},"legend":null}}},
  {"data":{"name":"boxes"},"transform":[{"filter":"datum.p==4"}],"mark":{"type":"bar","fillOpacity":0,"stroke":"#333333","strokeWidth":2.4},
   "encoding":{"xOffset":{"field":"s","type":"nominal","scale":{"type":"band","domain":["control","case"],"paddingInner":0.078,"paddingOuter":0.376}},
    "y":{"field":"med","type":"quantitative","scale":{"domain":[-0.398,7.453],"nice":false,"zero":false}},"y2":{"field":"med"}}},
  {"data":{"name":"points"},"transform":[{"filter":"datum.p==4"}],"mark":{"type":"circle","color":"#000000","size":18,"opacity":1},
   "encoding":{"xOffset":{"field":"s","type":"nominal","scale":{"type":"band","domain":["control","case"],"paddingInner":0.078,"paddingOuter":0.376}},
    "y":{"field":"v","type":"quantitative","scale":{"domain":[-0.398,7.453],"nice":false,"zero":false}}}},
  {"data":{"name":"brackets"},"transform":[{"filter":"datum.p==4"}],"mark":{"type":"line","color":"#111111","strokeWidth":1.3},
   "encoding":{"xOffset":{"field":"side","type":"nominal","scale":{"type":"point","domain":["L","R"],"padding":0.389}},
    "y":{"field":"v","type":"quantitative","scale":{"domain":[-0.398,7.453],"nice":false,"zero":false}},"detail":{"field":"g"},"order":{"field":"k","type":"quantitative"}}},
  {"data":{"name":"brackets"},"transform":[{"filter":"datum.p==4 && datum.k==2"}],"mark":{"type":"text","text":"*","font":"Liberation Sans","fontSize":28,"dy":1,"color":"#111111"},
   "encoding":{"y":{"field":"v","type":"quantitative","scale":{"domain":[-0.398,7.453],"nice":false,"zero":false}}}}
 ]},
{"width":314,"height":256,"resolve":{"scale":{"xOffset":"independent"}},
 "encoding":{"x":{"field":"g","type":"nominal","title":null,"scale":{"domain":["120084901-HERV0406uL","CLEC4E"],"paddingInner":0,"paddingOuter":0.1295,"align":0.625},"axis":{"labelPadding":29,"labelExpr":"indexof(datum.label,'-')>0 ? [slice(datum.label,0,indexof(datum.label,'-')+1), slice(datum.label,indexof(datum.label,'-')+1)] : datum.label"}}},
 "layer":[
  {"data":{"name":"boxes"},"transform":[{"filter":"datum.p==5"}],"mark":{"type":"rule","color":"#4d4d4d","strokeWidth":1.1},
   "encoding":{"xOffset":{"field":"s","type":"nominal","scale":{"type":"band","domain":["control","case"],"paddingInner":0.078,"paddingOuter":0.376}},
    "y":{"field":"lo","type":"quantitative","scale":{"domain":[1.306,10.567],"nice":false,"zero":false},"axis":{"title":"log2(TPM+1)","values":[2.5,5,7.5,10],"format":".1f","offset":-9,"minExtent":38,"maxExtent":38,"titleY":127}},"y2":{"field":"hi"}}},
  {"data":{"name":"boxes"},"transform":[{"filter":"datum.p==5"}],"mark":{"type":"bar","stroke":"#6b6b6b","strokeWidth":1.3},
   "encoding":{"xOffset":{"field":"s","type":"nominal","scale":{"type":"band","domain":["control","case"],"paddingInner":0.078,"paddingOuter":0.376}},
    "y":{"field":"q1","type":"quantitative","scale":{"domain":[1.306,10.567],"nice":false,"zero":false}},"y2":{"field":"q3"},
    "fill":{"field":"s","type":"nominal","scale":{"domain":["control","case"],"range":["#FAC8C5","#AFE5E6"]},"legend":null}}},
  {"data":{"name":"boxes"},"transform":[{"filter":"datum.p==5"}],"mark":{"type":"bar","fillOpacity":0,"stroke":"#333333","strokeWidth":2.4},
   "encoding":{"xOffset":{"field":"s","type":"nominal","scale":{"type":"band","domain":["control","case"],"paddingInner":0.078,"paddingOuter":0.376}},
    "y":{"field":"med","type":"quantitative","scale":{"domain":[1.306,10.567],"nice":false,"zero":false}},"y2":{"field":"med"}}},
  {"data":{"name":"points"},"transform":[{"filter":"datum.p==5"}],"mark":{"type":"circle","color":"#000000","size":18,"opacity":1},
   "encoding":{"xOffset":{"field":"s","type":"nominal","scale":{"type":"band","domain":["control","case"],"paddingInner":0.078,"paddingOuter":0.376}},
    "y":{"field":"v","type":"quantitative","scale":{"domain":[1.306,10.567],"nice":false,"zero":false}}}},
  {"data":{"name":"brackets"},"transform":[{"filter":"datum.p==5"}],"mark":{"type":"line","color":"#111111","strokeWidth":1.3},
   "encoding":{"xOffset":{"field":"side","type":"nominal","scale":{"type":"point","domain":["L","R"],"padding":0.553}},
    "y":{"field":"v","type":"quantitative","scale":{"domain":[1.306,10.567],"nice":false,"zero":false}},"detail":{"field":"g"},"order":{"field":"k","type":"quantitative"}}},
  {"data":{"name":"brackets"},"transform":[{"filter":"datum.p==5 && datum.k==2"}],"mark":{"type":"text","text":"*","font":"Liberation Sans","fontSize":28,"dy":1,"color":"#111111"},
   "encoding":{"y":{"field":"v","type":"quantitative","scale":{"domain":[1.306,10.567],"nice":false,"zero":false}}}}
 ]},
{"width":303,"height":263,"resolve":{"scale":{"xOffset":"independent"}},
 "encoding":{"x":{"field":"g","type":"nominal","title":null,"scale":{"domain":["040314601-HERV0741uL","FAM200B"],"paddingInner":0,"paddingOuter":0.122,"align":0.591},"axis":{"labelPadding":17.5,"labelExpr":"indexof(datum.label,'-')>0 ? [slice(datum.label,0,indexof(datum.label,'-')+1), slice(datum.label,indexof(datum.label,'-')+1)] : datum.label"}}},
 "layer":[
  {"data":{"name":"boxes"},"transform":[{"filter":"datum.p==6"}],"mark":{"type":"rule","color":"#4d4d4d","strokeWidth":1.1},
   "encoding":{"xOffset":{"field":"s","type":"nominal","scale":{"type":"band","domain":["control","case"],"paddingInner":0.078,"paddingOuter":0.376}},
    "y":{"field":"lo","type":"quantitative","scale":{"domain":[1.646,6.146],"nice":false,"zero":false},"axis":{"title":"log2(TPM+1)","values":[2,3,4,5],"format":"d","offset":-5,"minExtent":25,"maxExtent":25,"titleY":139.5}},"y2":{"field":"hi"}}},
  {"data":{"name":"boxes"},"transform":[{"filter":"datum.p==6"}],"mark":{"type":"bar","stroke":"#6b6b6b","strokeWidth":1.3},
   "encoding":{"xOffset":{"field":"s","type":"nominal","scale":{"type":"band","domain":["control","case"],"paddingInner":0.078,"paddingOuter":0.376}},
    "y":{"field":"q1","type":"quantitative","scale":{"domain":[1.646,6.146],"nice":false,"zero":false}},"y2":{"field":"q3"},
    "fill":{"field":"s","type":"nominal","scale":{"domain":["control","case"],"range":["#FAC8C5","#AFE5E6"]},"legend":null}}},
  {"data":{"name":"boxes"},"transform":[{"filter":"datum.p==6"}],"mark":{"type":"bar","fillOpacity":0,"stroke":"#333333","strokeWidth":2.4},
   "encoding":{"xOffset":{"field":"s","type":"nominal","scale":{"type":"band","domain":["control","case"],"paddingInner":0.078,"paddingOuter":0.376}},
    "y":{"field":"med","type":"quantitative","scale":{"domain":[1.646,6.146],"nice":false,"zero":false}},"y2":{"field":"med"}}},
  {"data":{"name":"points"},"transform":[{"filter":"datum.p==6"}],"mark":{"type":"circle","color":"#000000","size":18,"opacity":1},
   "encoding":{"xOffset":{"field":"s","type":"nominal","scale":{"type":"band","domain":["control","case"],"paddingInner":0.078,"paddingOuter":0.376}},
    "y":{"field":"v","type":"quantitative","scale":{"domain":[1.646,6.146],"nice":false,"zero":false}}}},
  {"data":{"name":"brackets"},"transform":[{"filter":"datum.p==6"}],"mark":{"type":"line","color":"#111111","strokeWidth":1.3},
   "encoding":{"xOffset":{"field":"side","type":"nominal","scale":{"type":"point","domain":["L","R"],"padding":0.607}},
    "y":{"field":"v","type":"quantitative","scale":{"domain":[1.646,6.146],"nice":false,"zero":false}},"detail":{"field":"g"},"order":{"field":"k","type":"quantitative"}}},
  {"data":{"name":"brackets"},"transform":[{"filter":"datum.p==6 && datum.k==2"}],"mark":{"type":"text","text":"*","font":"Liberation Sans","fontSize":28,"dy":1,"color":"#111111"},
   "encoding":{"y":{"field":"v","type":"quantitative","scale":{"domain":[1.646,6.146],"nice":false,"zero":false}}}}
 ]},
{"width":309,"height":233,"resolve":{"scale":{"xOffset":"independent"}},
 "encoding":{"x":{"field":"g","type":"nominal","title":null,"scale":{"domain":["190407702-HERV0425uL","NFKBID"],"paddingInner":0,"paddingOuter":0.051,"align":0.033},"axis":{"labelPadding":21,"labelExpr":"indexof(datum.label,'-')>0 ? [slice(datum.label,0,indexof(datum.label,'-')+1), slice(datum.label,indexof(datum.label,'-')+1)] : datum.label"}}},
 "layer":[
  {"data":{"name":"boxes"},"transform":[{"filter":"datum.p==7"}],"mark":{"type":"rule","color":"#4d4d4d","strokeWidth":1.1},
   "encoding":{"xOffset":{"field":"s","type":"nominal","scale":{"type":"band","domain":["control","case"],"paddingInner":0.078,"paddingOuter":0.376}},
    "y":{"field":"lo","type":"quantitative","scale":{"domain":[1.458,9.697],"nice":false,"zero":false},"axis":{"title":"log2(TPM+1)","values":[2,4,6,8],"format":"d","offset":14,"minExtent":22,"maxExtent":22,"titleY":113.5}},"y2":{"field":"hi"}}},
  {"data":{"name":"boxes"},"transform":[{"filter":"datum.p==7"}],"mark":{"type":"bar","stroke":"#6b6b6b","strokeWidth":1.3},
   "encoding":{"xOffset":{"field":"s","type":"nominal","scale":{"type":"band","domain":["control","case"],"paddingInner":0.078,"paddingOuter":0.376}},
    "y":{"field":"q1","type":"quantitative","scale":{"domain":[1.458,9.697],"nice":false,"zero":false}},"y2":{"field":"q3"},
    "fill":{"field":"s","type":"nominal","scale":{"domain":["control","case"],"range":["#FAC8C5","#AFE5E6"]},"legend":null}}},
  {"data":{"name":"boxes"},"transform":[{"filter":"datum.p==7"}],"mark":{"type":"bar","fillOpacity":0,"stroke":"#333333","strokeWidth":2.4},
   "encoding":{"xOffset":{"field":"s","type":"nominal","scale":{"type":"band","domain":["control","case"],"paddingInner":0.078,"paddingOuter":0.376}},
    "y":{"field":"med","type":"quantitative","scale":{"domain":[1.458,9.697],"nice":false,"zero":false}},"y2":{"field":"med"}}},
  {"data":{"name":"points"},"transform":[{"filter":"datum.p==7"}],"mark":{"type":"circle","color":"#000000","size":18,"opacity":1},
   "encoding":{"xOffset":{"field":"s","type":"nominal","scale":{"type":"band","domain":["control","case"],"paddingInner":0.078,"paddingOuter":0.376}},
    "y":{"field":"v","type":"quantitative","scale":{"domain":[1.458,9.697],"nice":false,"zero":false}}}},
  {"data":{"name":"brackets"},"transform":[{"filter":"datum.p==7"}],"mark":{"type":"line","color":"#111111","strokeWidth":1.3},
   "encoding":{"xOffset":{"field":"side","type":"nominal","scale":{"type":"point","domain":["L","R"],"padding":0.614}},
    "y":{"field":"v","type":"quantitative","scale":{"domain":[1.458,9.697],"nice":false,"zero":false}},"detail":{"field":"g"},"order":{"field":"k","type":"quantitative"}}},
  {"data":{"name":"brackets"},"transform":[{"filter":"datum.p==7 && datum.k==2"}],"mark":{"type":"text","text":"*","font":"Liberation Sans","fontSize":28,"dy":1,"color":"#111111"},
   "encoding":{"y":{"field":"v","type":"quantitative","scale":{"domain":[1.458,9.697],"nice":false,"zero":false}}}}
 ]}
]
}
